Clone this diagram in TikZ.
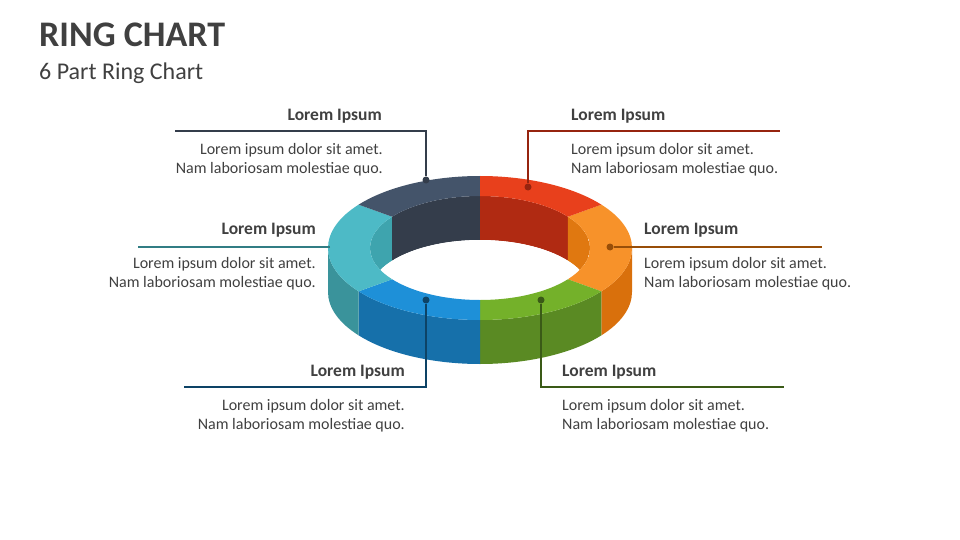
\documentclass[tikz,border=0pt]{standalone}
\usepackage{fontspec}
\setmainfont{Carlito}
\usetikzlibrary{positioning}
\definecolor{grayTop}{HTML}{44546A}\definecolor{grayIn}{HTML}{343D4B}
\definecolor{redTop}{HTML}{E8401C}\definecolor{redIn}{HTML}{B02A12}
\definecolor{orgTop}{HTML}{F7922A}\definecolor{orgSide}{HTML}{D9700C}\definecolor{orgIn}{HTML}{E07810}
\definecolor{grnTop}{HTML}{74B12A}\definecolor{grnSide}{HTML}{5A8A23}
\definecolor{bluTop}{HTML}{1E90D8}\definecolor{bluSide}{HTML}{1670AA}
\definecolor{tealTop}{HTML}{4DBAC6}\definecolor{tealSide}{HTML}{3A939B}\definecolor{tealIn}{HTML}{3EA4AE}
\definecolor{txt}{HTML}{404040}
% top face of a segment from angle #1 to #2
\newcommand{\ringtop}[3]{\fill[#3] (480,248) ++(#1:152 and 72) arc[start angle=#1,end angle=#2,x radius=152,y radius=72]
  -- ($(480,248)+(#2:110 and 52)$) arc[start angle=#2,end angle=#1,x radius=110,y radius=52] -- cycle;}
% wall (outer or inner) from #1 to #2, radii #3 and #4
\newcommand{\ringwall}[5]{\fill[#5] (480,248) ++(#1:#3 and #4) arc[start angle=#1,end angle=#2,x radius=#3,y radius=#4]
  -- ++(0,44) arc[start angle=#2,end angle=#1,x radius=#3,y radius=#4] -- cycle;}
\usetikzlibrary{calc}
\begin{document}
\begin{tikzpicture}[x=1pt,y=-1pt,
  head/.style={font=\fontsize{17.5}{20}\selectfont\bfseries,text=txt,inner sep=0pt},
  body/.style={font=\fontsize{16}{19}\selectfont,text=txt,inner sep=0pt},
  lead/.style={line width=2pt},
  dot/.style={circle,fill,inner sep=0pt,minimum size=7pt}]
\useasboundingbox (0,0) rectangle (960,540);
\node[anchor=west,font=\fontsize{36}{40}\selectfont\bfseries,text=txt,inner sep=0pt] (title) at (39,35) {RING CHART};
\node[anchor=west,font=\fontsize{24}{28}\selectfont,text=txt,inner sep=0pt] (sub) at (39,73) {6 Part Ring Chart};
% outer side walls
\ringwall{0}{37}{152}{72}{orgSide}
\ringwall{37}{90}{152}{72}{grnSide}
\ringwall{90}{143}{152}{72}{bluSide}
\ringwall{143}{180}{152}{72}{tealSide}
% inner walls and hole
\begin{scope}
  \clip (480,248) ellipse[x radius=110,y radius=52];
  \ringwall{143}{217}{110}{52}{tealIn}
  \ringwall{217}{270}{110}{52}{grayIn}
  \ringwall{270}{323}{110}{52}{redIn}
  \ringwall{323}{397}{110}{52}{orgIn}
  \fill[white] (480,292) ellipse[x radius=110,y radius=52];
\end{scope}
% top faces
\ringtop{-37}{37}{orgTop}
\ringtop{37}{90}{grnTop}
\ringtop{90}{143}{bluTop}
\ringtop{143}{217}{tealTop}
\ringtop{217}{270}{grayTop}
\ringtop{270}{323}{redTop}
% callouts
\node[dot,grayIn] (d1) at (426,180) {};
\coordinate (c1) at (175,131);
\draw[lead,grayIn] (d1) -- (426,131) -- (c1);
\node[head,anchor=east] (h1) at (382,116) {Lorem Ipsum};
\node[body,anchor=north east,align=right] (b1) at (383,143) {Lorem ipsum dolor sit amet.\\Nam laboriosam molestiae quo.};
\node[dot,fill=redIn!85!black] (d2) at (528,187) {};
\coordinate (c2) at (780,131);
\draw[lead,redIn!85!black] (d2) -- (528,131) -- (c2);
\node[head,anchor=west] (h2) at (571,116) {Lorem Ipsum};
\node[body,anchor=north west,align=left] (b2) at (571,143) {Lorem ipsum dolor sit amet.\\Nam laboriosam molestiae quo.};
\node[dot,fill=orgSide!70!black] (d3) at (610,247) {};
\coordinate (c3) at (822,247);
\draw[lead,orgSide!70!black] (d3) -- (c3);
\node[head,anchor=west] (h3) at (644,230) {Lorem Ipsum};
\node[body,anchor=north west,align=left] (b3) at (644,257) {Lorem ipsum dolor sit amet.\\Nam laboriosam molestiae quo.};
\coordinate (d4) at (330,247);
\coordinate (c4) at (138,247);
\draw[lead,tealSide!85!black] (d4) -- (c4);
\node[head,anchor=east] (h4) at (316,230) {Lorem Ipsum};
\node[body,anchor=north east,align=right] (b4) at (316,257) {Lorem ipsum dolor sit amet.\\Nam laboriosam molestiae quo.};
\node[dot,fill=bluSide!60!black] (d5) at (426,300) {};
\coordinate (c5) at (184,387);
\draw[lead,bluSide!60!black] (d5) -- (426,387) -- (c5);
\node[head,anchor=east] (h5) at (405,372) {Lorem Ipsum};
\node[body,anchor=north east,align=right] (b5) at (405,399) {Lorem ipsum dolor sit amet.\\Nam laboriosam molestiae quo.};
\node[dot,fill=grnSide!65!black] (d6) at (541,300) {};
\coordinate (c6) at (784,387);
\draw[lead,grnSide!65!black] (d6) -- (541,387) -- (c6);
\node[head,anchor=west] (h6) at (562,372) {Lorem Ipsum};
\node[body,anchor=north west,align=left] (b6) at (562,399) {Lorem ipsum dolor sit amet.\\Nam laboriosam molestiae quo.};
\end{tikzpicture}
\end{document}
